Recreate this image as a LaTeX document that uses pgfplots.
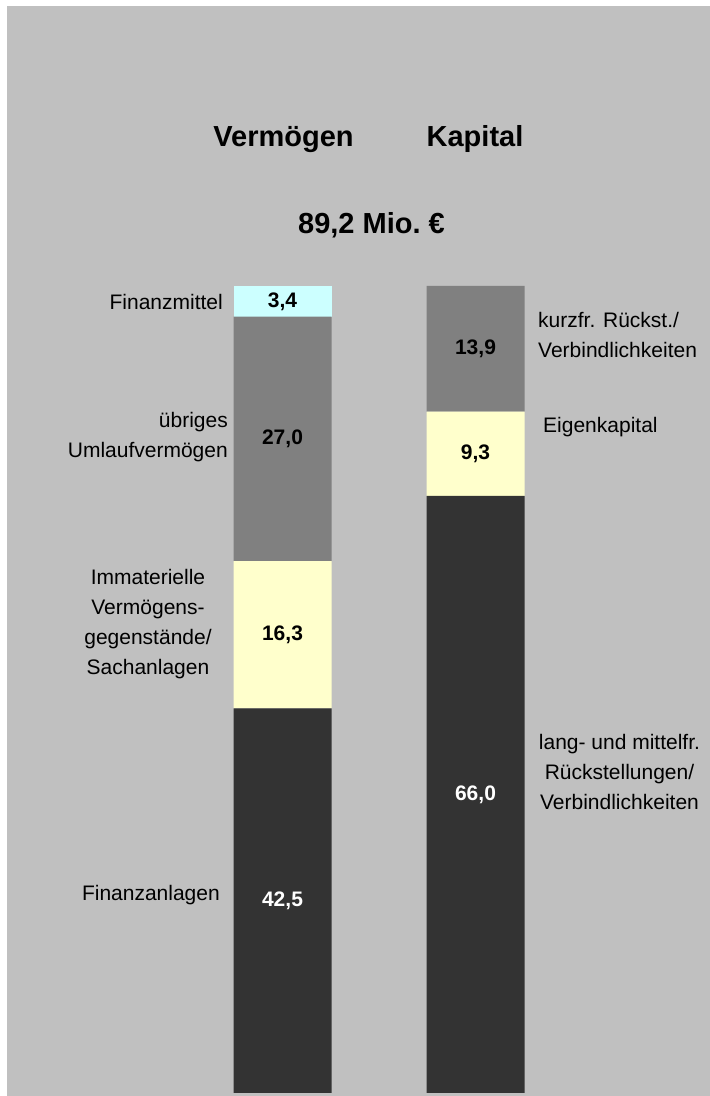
\documentclass[border=0pt]{standalone}
\usepackage{pgfplots}
\pgfplotsset{compat=1.18}
\usepackage{fontspec}
\setmainfont{Liberation Sans}
\definecolor{bggray}{HTML}{C0C0C0}
\definecolor{segdark}{HTML}{333333}
\definecolor{segmid}{HTML}{808080}
\definecolor{segyel}{HTML}{FFFFCC}
\definecolor{segcyan}{HTML}{CCFFFF}
\begin{document}
\begin{tikzpicture}
\useasboundingbox (0,0) rectangle (710pt,1096pt);
\fill[white] (0,0) rectangle (710pt,1096pt);
\fill[bggray] (7pt,0) rectangle (710pt,1090pt);
\begin{axis}[
  at={(0,0)}, anchor=south west,
  scale only axis, width=710pt, height=1096pt,
  xmin=0, xmax=710, ymin=-0.3316, ymax=120.81,
  hide axis, clip=false,
  ybar stacked, bar width=98,
]
\addplot[fill=segdark, draw=none] coordinates {(282.5,42.5) (475.5,66.0)};
\addplot[fill=segyel, draw=none] coordinates {(282.5,16.3) (475.5,9.3)};
\addplot[fill=segmid, draw=none] coordinates {(282.5,27.0) (475.5,13.9)};
\addplot[fill=segcyan, draw=none] coordinates {(282.5,3.4)};

% anchor points (axis coordinates)
\coordinate (v1) at (axis cs:282.5,21.25);
\coordinate (v2) at (axis cs:282.5,50.65);
\coordinate (v3) at (axis cs:282.5,72.3);
\coordinate (v4) at (axis cs:282.5,87.5);
\coordinate (v5) at (axis cs:475.5,33.0);
\coordinate (v6) at (axis cs:475.5,70.65);
\coordinate (v7) at (axis cs:475.5,82.25);
\coordinate (t1) at (axis cs:283.5,104.57);
\coordinate (t2) at (axis cs:475,104.57);
\coordinate (t3) at (axis cs:371.5,94.95);
\coordinate (l1) at (axis cs:223,87.4);
\coordinate (l2) at (axis cs:228,72.5);
\coordinate (l3) at (axis cs:148,51.84);
\coordinate (l4) at (axis cs:220,21.9);
\coordinate (l5) at (axis cs:538,83.8);
\coordinate (l6) at (axis cs:543,73.6);
\coordinate (l7) at (axis cs:619.5,35.48);
\end{axis}

% values
\tikzset{val/.style={font=\fontsize{21}{25}\selectfont\bfseries, inner sep=0pt}}
\node[val, text=white] at (v1) {42,5};
\node[val] at (v2) {16,3};
\node[val] at (v3) {27,0};
\node[val] at (v4) {3,4};
\node[val, text=white] at (v5) {66,0};
\node[val] at (v6) {9,3};
\node[val] at (v7) {13,9};

% titles
\tikzset{ttl/.style={font=\fontsize{29}{34}\selectfont\bfseries, inner sep=0pt, anchor=base}}
\node[ttl] at (t1) {Vermögen};
\node[ttl] at (t2) {Kapital};
\node[ttl] at (t3) {89,2 Mio.\ €};

% category labels
\tikzset{lab/.style={font=\fontsize{21}{30}\selectfont, inner sep=0pt}}
\node[lab, anchor=east, align=right] at (l1) {Finanzmittel};
\node[lab, anchor=east, align=right] at (l2) {übriges\\Umlaufvermögen};
\node[lab, align=center] at (l3) {Immaterielle\\Vermögens-\\gegenstände/\\Sachanlagen};
\node[lab, anchor=east, align=right] at (l4) {Finanzanlagen};
\node[lab, anchor=west, align=left] at (l5) {kurzfr. Rückst./\\Verbindlichkeiten};
\node[lab, anchor=west, align=left] at (l6) {Eigenkapital};
\node[lab, align=center] at (l7) {lang- und mittelfr.\\Rückstellungen/\\Verbindlichkeiten};
\end{tikzpicture}
\end{document}
